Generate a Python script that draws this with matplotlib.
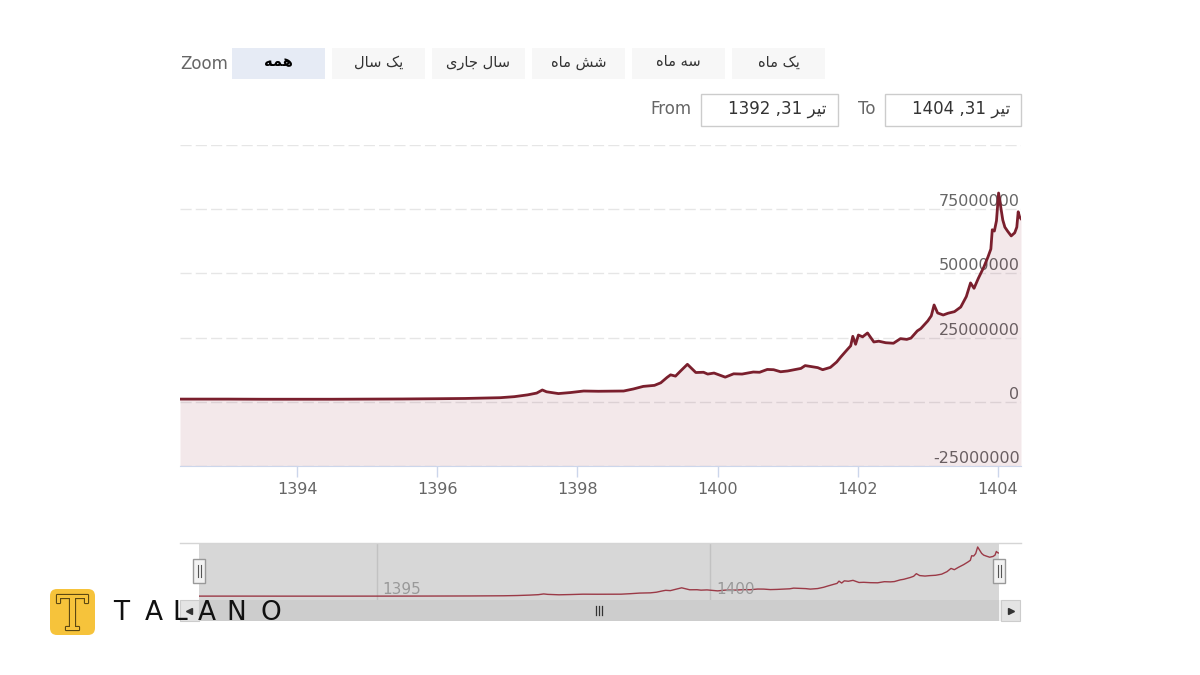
import numpy as np
import matplotlib.pyplot as plt
from matplotlib.patches import Rectangle, FancyBboxPatch
import matplotlib.patheffects as pe

# gold coin price, Jalali decimal years
years = [1392.33, 1393.0, 1393.5, 1394.0, 1394.5, 1395.0, 1395.5, 1396.0, 1396.4, 1396.9,
         1397.1, 1397.29, 1397.42, 1397.5, 1397.56, 1397.73, 1397.9, 1398.09, 1398.3, 1398.66,
         1398.8, 1398.94, 1399.1, 1399.19, 1399.28, 1399.33, 1399.4, 1399.48, 1399.57, 1399.69,
         1399.8, 1399.86, 1399.95, 1400.05, 1400.11, 1400.23, 1400.35, 1400.51, 1400.6, 1400.71,
         1400.8, 1400.9, 1401.0, 1401.19, 1401.25, 1401.43, 1401.5, 1401.61, 1401.7, 1401.76,
         1401.85, 1401.9, 1401.93, 1401.97, 1402.01, 1402.07, 1402.14, 1402.23, 1402.3, 1402.4,
         1402.51, 1402.61, 1402.7, 1402.76, 1402.85, 1402.9, 1403.0, 1403.05, 1403.09, 1403.14,
         1403.22, 1403.29, 1403.38, 1403.47, 1403.55, 1403.61, 1403.66, 1403.72, 1403.8, 1403.86,
         1403.9, 1403.92, 1403.95, 1403.98, 1404.01, 1404.04, 1404.07, 1404.1, 1404.14, 1404.19,
         1404.24, 1404.27, 1404.29, 1404.31, 1404.33]
price_m = [1.05, 1.05, 1.0, 1.0, 1.0, 1.05, 1.1, 1.2, 1.3, 1.6,
           2.0, 2.7, 3.4, 4.6, 3.9, 3.2, 3.6, 4.2, 4.1, 4.2,
           5.0, 6.0, 6.4, 7.4, 9.5, 10.5, 10.0, 12.2, 14.6, 11.4,
           11.5, 10.8, 11.2, 10.2, 9.6, 10.9, 10.8, 11.6, 11.5, 12.6,
           12.5, 11.7, 12.0, 13.0, 14.1, 13.3, 12.5, 13.4, 15.5, 17.5,
           20.3, 21.8, 25.5, 22.4, 26.0, 25.3, 26.8, 23.3, 23.6, 23.0,
           22.8, 24.6, 24.3, 24.8, 27.6, 28.5, 31.5, 33.5, 37.7, 34.6,
           33.8, 34.5, 35.1, 36.9, 41.0, 46.3, 44.2, 48.0, 52.5, 56.5,
           59.5, 67.0, 66.5, 70.5, 81.3, 76.0, 70.8, 68.0, 66.4, 64.6,
           65.8, 68.0, 74.0, 72.0, 71.3]
price = np.array(price_m) * 1e6

y_ticks = [-25000000, 0, 25000000, 50000000, 75000000, 100000000]
y_labels = ['-25000000', '0', '25000000', '50000000', '75000000', '']
x_ticks = [1394, 1396, 1398, 1400, 1402, 1404]
nav_ticks = [1395, 1400]

buttons = ['همه', 'یک سال', 'سال جاری', 'شش ماه', 'سه ماه', 'یک ماه']
date_from = 'تیر 31, 1392'
date_to = 'تیر 31, 1404'
brand = ['T', 'A', 'L', 'A', 'N', 'O']

# minimal persian shaping (matplotlib has no bidi / joining)
FORMS = {
    'ا': ('\ufe8d', '\ufe8e', None, None),
    'ر': ('\ufead', '\ufeae', None, None),
    'ت': ('\ufe95', '\ufe96', '\ufe97', '\ufe98'),
    'ج': ('\ufe9d', '\ufe9e', '\ufe9f', '\ufea0'),
    'س': ('\ufeb1', '\ufeb2', '\ufeb3', '\ufeb4'),
    'ش': ('\ufeb5', '\ufeb6', '\ufeb7', '\ufeb8'),
    'ل': ('\ufedd', '\ufede', '\ufedf', '\ufee0'),
    'م': ('\ufee1', '\ufee2', '\ufee3', '\ufee4'),
    'ه': ('\ufee9', '\ufeea', '\ufeeb', '\ufeec'),
    'ی': ('\ufbfc', '\ufbfd', '\ufbfe', '\ufbff'),
    'ک': ('\ufb8e', '\ufb8f', '\ufb90', '\ufb91'),
}

def shape(word):
    out = []
    for i, c in enumerate(word):
        if c not in FORMS:
            out.append(c)
            continue
        prev = i > 0 and word[i-1] in FORMS and FORMS[word[i-1]][2] is not None
        nxt = i < len(word)-1 and word[i+1] in FORMS and FORMS[c][2] is not None
        isol, fin, init, med = FORMS[c]
        if prev and nxt:
            out.append(med)
        elif nxt:
            out.append(init)
        elif prev:
            out.append(fin)
        else:
            out.append(isol)
    return ''.join(out)

def fa(s):
    out = []
    for w in reversed(s.split(' ')):
        if any('\u0600' <= c <= '\u06ff' for c in w):
            out.append(shape(w)[::-1])
        elif w and w[-1] in ',.':
            out.append(w[-1] + w[:-1])
        else:
            out.append(w)
    return ' '.join(out)

plt.rcParams['font.family'] = ['DejaVu Sans']
W, H = 1200, 675
def frac(x0, y0, x1, y1):
    return [x0/W, 1-y1/H, (x1-x0)/W, (y1-y0)/H]

fig = plt.figure(figsize=(12, 6.75), dpi=100)
x0, x1 = years[0], years[-1]

# main chart
ax = fig.add_axes(frac(180, 145, 1021, 466))
ax.fill_between(years, price, -25e6, color='#8a1f38', alpha=0.1, lw=0)
ax.plot(years, price, color='#7a1f2d', lw=2.0, zorder=3, solid_joinstyle='round')
ax.set_xlim(x0, x1)
ax.set_ylim(-25e6, 100e6)
ax.set_yticks(y_ticks)
ax.set_yticklabels(y_labels)
ax.yaxis.tick_right()
ax.tick_params(axis='y', length=0, pad=-1, labelsize=11.5, labelcolor='#666666')
for lab in ax.get_yticklabels():
    lab.set_ha('right')
    lab.set_va('bottom')
ax.grid(axis='y', color='#e6e6e6', linestyle=(0, (8, 3)), lw=1)
ax.set_axisbelow(True)
ax.set_xticks(x_ticks)
ax.set_xticklabels([str(t) for t in x_ticks])
ax.tick_params(axis='x', length=8, width=1, color='#ccd6eb', labelsize=11.5,
               labelcolor='#666666', pad=3.5)
for s in ['top', 'left', 'right']:
    ax.spines[s].set_visible(False)
ax.spines['bottom'].set_color('#ccd6eb')

# navigator
nav = fig.add_axes(frac(199, 543, 999, 600))
nav.set_facecolor('#d7d7d7')
nav.plot(years, price, color='#9b3a47', lw=1)
nav.set_xlim(x0, x1)
nav.set_ylim(-5.3e6, 87.8e6)
nav.set_xticks(nav_ticks)
nav.set_yticks([])
nav.tick_params(axis='x', length=0, labelbottom=False)
nav.grid(axis='x', color='#c2c2c2', lw=1)
for s in nav.spines.values():
    s.set_visible(False)
for t in nav_ticks:
    nav.annotate(str(t), xy=(t, 0.1), xycoords=('data', 'axes fraction'),
                 xytext=(4, 0), textcoords='offset points', ha='left',
                 va='baseline', color='#999999', fontsize=11)

# overlay for the UI parts
ov = fig.add_axes([0, 0, 1, 1])
ov.set_xlim(0, W)
ov.set_ylim(H, 0)
ov.axis('off')
ov.patch.set_alpha(0)

ov.text(180, 64, 'Zoom', ha='left', va='center', color='#666666', fontsize=12)
for i, b in enumerate(buttons):
    bx = 232 + 100*i
    ov.add_patch(Rectangle((bx, 48), 93, 31, fc='#e6ebf5' if i == 0 else '#f7f7f7', ec='none'))
    ov.text(bx + 46.5, 62, fa(b), ha='center', va='center', fontsize=10.5,
            color='#000000' if i == 0 else '#333333',
            fontweight='bold' if i == 0 else 'normal')

ov.text(692, 109, 'From', ha='right', va='center', color='#666666', fontsize=12)
ov.add_patch(Rectangle((701, 94), 137, 32, fc='white', ec='#cccccc', lw=1))
ov.text(826, 109, fa(date_from), ha='right', va='center', color='#333333', fontsize=12)
ov.text(876, 109, 'To', ha='right', va='center', color='#666666', fontsize=12)
ov.add_patch(Rectangle((885, 94), 136, 32, fc='white', ec='#cccccc', lw=1))
ov.text(1010, 109, fa(date_to), ha='right', va='center', color='#333333', fontsize=12)

# navigator outline, handles, scrollbar
ov.plot([180, 1021], [542.5, 542.5], color='#d5d5d5', lw=1)
for hx in (199, 999):
    ov.add_patch(Rectangle((hx-6, 559), 12, 24, fc='#f2f2f2', ec='#999999', lw=1))
    ov.plot([hx-1.5, hx-1.5], [565, 577], color='#555555', lw=0.8)
    ov.plot([hx+1.5, hx+1.5], [565, 577], color='#555555', lw=0.8)
ov.add_patch(Rectangle((180, 600), 841, 21, fc='#f2f2f2', ec='none'))
ov.add_patch(Rectangle((199, 600), 800, 21, fc='#cdcdcd', ec='none'))
ov.add_patch(Rectangle((180, 600), 19, 21, fc='#e4e4e4', ec='#cccccc', lw=0.8))
ov.add_patch(Rectangle((1001, 600), 19, 21, fc='#e4e4e4', ec='#cccccc', lw=0.8))
ov.plot([189], [610.5], marker='<', ms=4, color='#333333')
ov.plot([1011], [610.5], marker='>', ms=4, color='#333333')
for gx in (596, 599, 602):
    ov.plot([gx, gx], [606, 615], color='#333333', lw=0.9)

# logo
ov.add_patch(FancyBboxPatch((50, 589), 45, 46, boxstyle='round,pad=0,rounding_size=7',
                            fc='#f6c33b', ec='none'))
ov.text(72.5, 612, 'T', ha='center', va='center_baseline', fontsize=34, family='DejaVu Serif',
        color='#f6c33b', path_effects=[pe.Stroke(linewidth=1.6, foreground='#5c4812'), pe.Normal()])
for ch, cx in zip(brand, [121.5, 154, 180, 207, 236, 271]):
    ov.text(cx, 613, ch, ha='center', va='center', fontsize=19, color='#111111')

fig.savefig('out.png', dpi=100)
